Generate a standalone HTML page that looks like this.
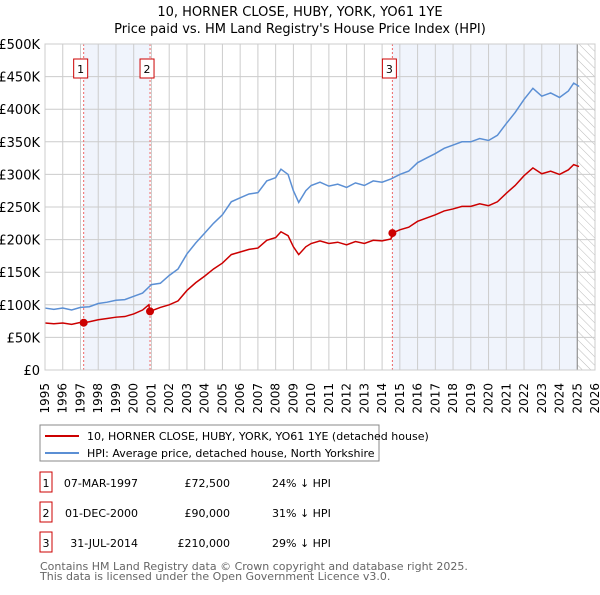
<!DOCTYPE html>
<html><head><meta charset="utf-8"><style>
body{margin:0;background:#fff;font-family:"Liberation Sans","DejaVu Sans",sans-serif;}
svg text{font-family:"DejaVu Sans","Liberation Sans",sans-serif;}
</style></head><body>
<svg id="c" width="600" height="590" xmlns="http://www.w3.org/2000/svg">
<defs><pattern id="hatch" width="6" height="6" patternUnits="userSpaceOnUse" patternTransform="rotate(-45)"><line x1="0" y1="0" x2="0" y2="6" stroke="#bbb" stroke-width="1"/></pattern></defs>
<text x="300" y="16" text-anchor="middle" font-size="13">10, HORNER CLOSE, HUBY, YORK, YO61 1YE</text>
<text x="300" y="33" text-anchor="middle" font-size="13">Price paid vs. HM Land Registry's House Price Index (HPI)</text>
<g id="plot"></g>
<rect x="40" y="425" width="339" height="36" fill="#fff" stroke="#888"/>
<line x1="45" y1="436" x2="79" y2="436" stroke="#cc0000" stroke-width="2"/>
<text x="87" y="440" font-size="11">10, HORNER CLOSE, HUBY, YORK, YO61 1YE (detached house)</text>
<line x1="45" y1="453" x2="79" y2="453" stroke="#5b8fd4" stroke-width="2"/>
<text x="87" y="457" font-size="11">HPI: Average price, detached house, North Yorkshire</text>
<g id="table" font-size="11"></g>
<text x="40" y="570" font-size="11" fill="#666">Contains HM Land Registry data © Crown copyright and database right 2025.</text>
<text x="40" y="580" font-size="11" fill="#666">This data is licensed under the Open Government Licence v3.0.</text>
</svg>
<script>
const hpiYears=[1995,1995.5,1996,1996.5,1997,1997.5,1998,1998.5,1999,1999.5,2000,2000.5,2001,2001.5,2002,2002.5,2003,2003.5,2004,2004.5,2005,2005.5,2006,2006.5,2007,2007.5,2008,2008.3,2008.7,2009,2009.3,2009.7,2010,2010.5,2011,2011.5,2012,2012.5,2013,2013.5,2014,2014.5,2015,2015.5,2016,2016.5,2017,2017.5,2018,2018.5,2019,2019.5,2020,2020.5,2021,2021.5,2022,2022.5,2023,2023.5,2024,2024.5,2024.8,2025.1];
const hpiValues=[95,93,95,92,96,97,102,104,107,108,113,118,131,133,145,155,178,195,210,225,238,258,264,270,272,290,295,308,300,275,257,275,283,288,282,285,280,287,283,290,288,293,300,305,318,325,332,340,345,350,350,355,352,360,378,395,415,432,420,425,418,428,440,435];
const redYears=[1995,1995.5,1996,1996.5,1997,1997.18,1997.5,1998,1998.5,1999,1999.5,2000,2000.5,2000.85,2000.92,2001.5,2002,2002.5,2003,2003.5,2004,2004.5,2005,2005.5,2006,2006.5,2007,2007.5,2008,2008.3,2008.7,2009,2009.3,2009.7,2010,2010.5,2011,2011.5,2012,2012.5,2013,2013.5,2014,2014.5,2014.58,2015,2015.5,2016,2016.5,2017,2017.5,2018,2018.5,2019,2019.5,2020,2020.5,2021,2021.5,2022,2022.5,2023,2023.5,2024,2024.5,2024.8,2025.1];
const redValues=[72,71,72,70,73,72.5,74,77,79,81,82,86,92,100,90,96,100,106,122,134,144,155,164,177,181,185,187,199,203,212,206,189,177,189,194,198,194,196,192,197,194,199,198,201,210,215,219,228,233,238,244,247,251,251,255,252,258,271,283,298,310,301,305,300,307,315,312];
const saleYears=[1997.18,2000.92,2014.58];
const salePrices=[72.5,90,210];
const saleLabels=["1","2","3"];
const saleDates=["07-MAR-1997","01-DEC-2000","31-JUL-2014"];
const salePriceText=["£72,500","£90,000","£210,000"];
const saleHpiText=["24% ↓ HPI","31% ↓ HPI","29% ↓ HPI"];
const yTicks=[0,50,100,150,200,250,300,350,400,450,500];
const yTickLabels=["£0","£50K","£100K","£150K","£200K","£250K","£300K","£350K","£400K","£450K","£500K"];
const xStart=1995,xEnd=2026,dataEnd=2025.0;

const NS="http://www.w3.org/2000/svg";
const L=45,R=595,T=44,B=370;
const X=y=>L+(y-xStart)/(xEnd-xStart)*(R-L);
const Y=v=>B-v/500*(B-T);
const plot=document.getElementById('plot');
function mk(tag,attrs,parent){const e=document.createElementNS(NS,tag);for(const k in attrs)e.setAttribute(k,attrs[k]);(parent||plot).appendChild(e);return e;}

let e;
e=mk('rect',{x:L,y:T,width:R-L,height:B-T,fill:'#fff'});


e=mk('rect',{x:X(saleYears[0]),y:T,width:X(saleYears[1])-X(saleYears[0]),height:B-T,fill:'#f0f4fc'});


e=mk('rect',{x:X(saleYears[2]),y:T,width:X(dataEnd)-X(saleYears[2]),height:B-T,fill:'#f0f4fc'});


e=mk('rect',{x:X(dataEnd),y:T,width:R-X(dataEnd),height:B-T,fill:'url(#hatch)'});


for(let yr=xStart;yr<=xEnd;yr++){
  e=mk('line',{x1:X(yr),x2:X(yr),y1:T,y2:B,stroke:'#cccccc','stroke-width':1});
  
  
  e=mk('text',{x:0,y:0,'font-size':12,'text-anchor':'end',transform:`translate(${X(yr)+4},383) rotate(-90)`});
  e.textContent=yr;
  
  
}
yTicks.forEach((v,i)=>{
  e=mk('line',{x1:L,x2:R,y1:Y(v),y2:Y(v),stroke:'#cccccc','stroke-width':1});
  
  
  e=mk('text',{x:40,y:Y(v)+5,'font-size':13,'text-anchor':'end'});
  e.textContent=yTickLabels[i];
  
  
});
e=mk('line',{x1:X(dataEnd),x2:X(dataEnd),y1:T,y2:B,stroke:'#888','stroke-width':1});


saleYears.forEach((yr,i)=>{
  e=mk('line',{x1:X(yr),x2:X(yr),y1:T,y2:B,stroke:'#ee6666','stroke-width':1,'stroke-dasharray':'2,2'});
  
  
});
e=mk('polyline',{points:hpiYears.map((y,i)=>X(y)+','+Y(hpiValues[i])).join(' '),fill:'none',stroke:'#5b8fd4','stroke-width':1.5});


e=mk('polyline',{points:redYears.map((y,i)=>X(y)+','+Y(redValues[i])).join(' '),fill:'none',stroke:'#cc0000','stroke-width':1.5});


saleYears.forEach((yr,i)=>{
  e=mk('circle',{cx:X(yr),cy:Y(salePrices[i]),r:4,fill:'#cc0000'});
  
  
  e=mk('rect',{x:X(yr)-10,y:59,width:14,height:19,fill:'#fff',stroke:'#cc0000','stroke-width':1});
  
  
  e=mk('text',{x:X(yr)-3,y:73,'font-size':11,'text-anchor':'middle'});
  e.textContent=saleLabels[i];
  
  
});
e=mk('rect',{x:L,y:T,width:R-L,height:B-T,fill:'none',stroke:'#ccc'});



const tbl=document.getElementById('table');
saleLabels.forEach((lab,i)=>{
  const cy=483+i*30;
  e=mk('rect',{x:40,y:cy-11,width:12,height:20,fill:'#fff',stroke:'#cc0000'},tbl);
  
  
  e=mk('text',{x:46,y:cy+4,'text-anchor':'middle'},tbl);
  e.textContent=lab;
  
  
  e=mk('text',{x:138,y:cy+4,'text-anchor':'end'},tbl);
  e.textContent=saleDates[i];
  
  
  e=mk('text',{x:230,y:cy+4,'text-anchor':'end'},tbl);
  e.textContent=salePriceText[i];
  
  
  e=mk('text',{x:272,y:cy+4},tbl);
  e.textContent=saleHpiText[i];
  
  
});
</script>
</body></html>
